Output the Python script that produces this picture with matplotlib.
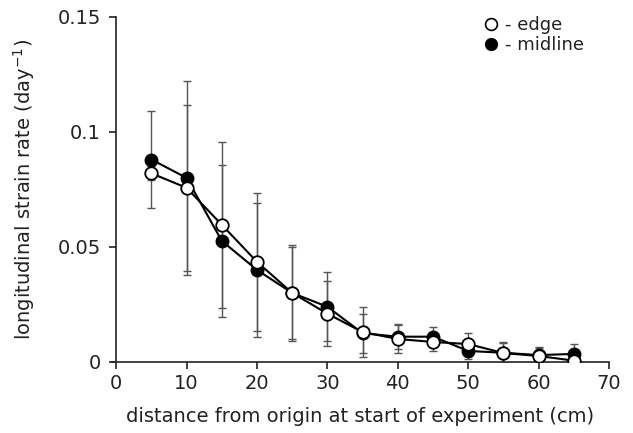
import matplotlib
matplotlib.use('Agg')
from matplotlib import pyplot as plt
from matplotlib.lines import Line2D

# 数据：距离（cm）与纵向应变速率（day^-1）
distance = [5, 10, 15, 20, 25, 30, 35, 40, 45, 50, 55, 60, 65]
edge_rate = [0.082, 0.0757, 0.0596, 0.0435, 0.030, 0.021, 0.013, 0.010, 0.0087, 0.0078, 0.0039, 0.0026, 0.0006]
edge_err = [0.003, 0.036, 0.036, 0.030, 0.021, 0.014, 0.011, 0.006, 0.004, 0.005, 0.0045, 0.0035, 0.001]
mid_rate = [0.088, 0.080, 0.0526, 0.040, 0.030, 0.024, 0.0125, 0.011, 0.011, 0.0048, 0.004, 0.003, 0.0035]
mid_err = [0.021, 0.042, 0.033, 0.029, 0.020, 0.015, 0.0085, 0.0055, 0.004, 0.0035, 0.0045, 0.0035, 0.0045]

xticks = [0, 10, 20, 30, 40, 50, 60, 70]
yticks = [0, 0.05, 0.1, 0.15]
ytick_labels = ['0', '0.05', '0.1', '0.15']

txt = '#222222'
plt.rcParams['font.family'] = ['DejaVu Sans']

fig = plt.figure(figsize=(6.33, 4.33), dpi=100)
ax = fig.add_axes([0.177, 0.164, 0.785, 0.797])

# 误差线（灰色细线）
ax.errorbar(distance, mid_rate, yerr=mid_err, fmt='none', ecolor='#555555',
            elinewidth=1.0, capsize=3, capthick=1.0, zorder=1)
ax.errorbar(distance, edge_rate, yerr=edge_err, fmt='none', ecolor='#555555',
            elinewidth=1.0, capsize=3, capthick=1.0, zorder=1)

ax.plot(distance, mid_rate, color='black', lw=1.5, marker='o', ms=9,
        mfc='black', mec='black', zorder=3)
ax.plot(distance, edge_rate, color='black', lw=1.5, marker='o', ms=9,
        mfc='white', mec='black', mew=1.3, zorder=4)

ax.set_xlim(-0.6, 70)
ax.set_ylim(0, 0.15)
ax.spines['left'].set_position(('data', 0))
ax.spines['top'].set_visible(False)
ax.spines['right'].set_visible(False)
for s in ('left', 'bottom'):
    ax.spines[s].set_linewidth(1.2)
    ax.spines[s].set_color('#222222')

ax.set_xticks(xticks)
ax.set_yticks(yticks)
ax.set_yticklabels(ytick_labels)
ax.tick_params(direction='out', length=5, width=1.2, labelsize=14,
               colors='#222222', labelcolor=txt)
ax.tick_params(axis='x', pad=4)
ax.tick_params(axis='y', pad=6)

ax.set_xlabel('distance from origin at start of experiment (cm)', fontsize=14,
              color=txt, labelpad=10)
ax.set_ylabel('longitudinal strain rate (day$^{-1}$)', fontsize=14,
              color=txt, labelpad=15)

handles = [Line2D([], [], ls='none', marker='o', ms=8.5, mfc='white', mec='black', mew=1.2),
           Line2D([], [], ls='none', marker='o', ms=8.5, mfc='black', mec='black')]
ax.legend(handles, ['- edge', '- midline'], loc='upper right', bbox_to_anchor=(0.982, 1.05),
          frameon=False, fontsize=13, handlelength=0.6, handletextpad=0.45,
          labelspacing=0.12, labelcolor=txt)

plt.savefig('out.png', dpi=100)
